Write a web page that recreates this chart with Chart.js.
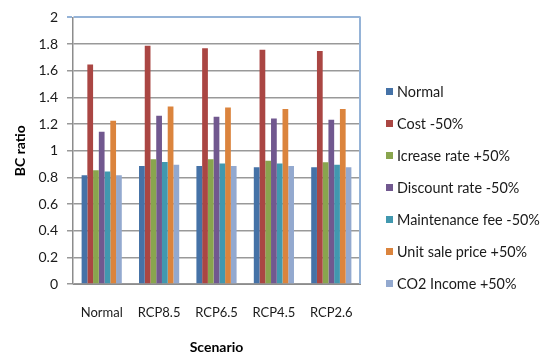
<!DOCTYPE html>
<html>
<head>
<meta charset="utf-8">
<script src="https://cdn.jsdelivr.net/npm/chart.js@4.4.1/dist/chart.umd.min.js"></script>
<style>
  html, body { margin: 0; padding: 0; background: #ffffff; }
  #wrap { width: 549px; height: 356px; position: relative; }
  #legend { position: absolute; left: 386px; top: 83px; margin: 0; padding: 0; list-style: none;
            font-family: Lato, "Open Sans", sans-serif; font-size: 14.4px; color: #1a1a1a; }
  #legend li { display: flex; align-items: center; height: 16px; margin-bottom: 16px; white-space: nowrap; }
  #legend .sw { width: 7px; height: 7px; margin-right: 4px; flex: none; }
</style>
</head>
<body>
<div id="wrap">
  <canvas id="c" width="549" height="356"></canvas>
  <ul id="legend"></ul>
</div>
<script>
// Benefit-cost ratio per climate scenario, one series per sensitivity case
const scenarios = ['Normal', 'RCP8.5', 'RCP6.5', 'RCP4.5', 'RCP2.6'];

const seriesNames = [
  'Normal',
  'Cost -50%',
  'Icrease rate +50%',
  'Discount rate -50%',
  'Maintenance fee -50%',
  'Unit sale price +50%',
  'CO2 Income +50%'
];

const normalCase      = [0.815, 0.886, 0.886, 0.876, 0.876];
const costMinus50     = [1.647, 1.788, 1.768, 1.758, 1.748];
const increasePlus50  = [0.854, 0.936, 0.936, 0.924, 0.913];
const discountMinus50 = [1.143, 1.262, 1.254, 1.242, 1.232];
const maintMinus50    = [0.844, 0.916, 0.904, 0.904, 0.894];
const unitPricePlus50 = [1.225, 1.331, 1.324, 1.313, 1.313];
const co2IncomePlus50 = [0.815, 0.894, 0.886, 0.886, 0.876];

const yTickLabels = ['0', '0.2', '0.4', '0.6', '0.8', '1', '1.2', '1.4', '1.6', '1.8', '2'];

const seriesColors = ['#4572A7', '#AA4643', '#89A54E', '#71588F', '#4198AF', '#DB843D', '#93A9CF'];
const seriesValues = [normalCase, costMinus50, increasePlus50, discountMinus50, maintMinus50, unitPricePlus50, co2IncomePlus50];

const FONT = 'Lato, "Open Sans", sans-serif';
const isTop = ctx => ctx.tick && Math.abs(ctx.tick.value - 2) < 1e-6;

const datasets = seriesNames.map((name, i) => ({
  label: name,
  data: seriesValues[i],
  backgroundColor: seriesColors[i],
  borderWidth: 0,
  categoryPercentage: 0.7,
  barPercentage: 1.0
}));

// Light-blue frame on the right edge of the plot area
const plotFrame = {
  id: 'plotFrame',
  afterDatasetsDraw(chart) {
    const { ctx, chartArea: a } = chart;
    ctx.save();
    ctx.strokeStyle = '#95B3D7';
    ctx.lineWidth = 2;
    ctx.beginPath();
    ctx.moveTo(a.right, a.top - 1);
    ctx.lineTo(a.right, a.bottom);
    ctx.stroke();
    ctx.restore();
  }
};

const chart = new Chart(document.getElementById('c'), {
  type: 'bar',
  data: { labels: scenarios, datasets },
  plugins: [plotFrame],
  options: {
    responsive: false,
    animation: false,
    devicePixelRatio: 1,
    layout: { padding: { left: 0, right: 189, top: 6, bottom: 0 } },
    plugins: {
      tooltip: { enabled: false },
      legend: { display: false }
    },
    scales: {
      x: {
        afterFit: s => { s.height = 72; },
        grid: { display: false },
        border: { color: '#8c8c8c', width: 1 },
        ticks: {
          font: { family: FONT, size: 13 },
          color: '#1a1a1a',
          padding: 13
        },
        title: {
          display: true,
          text: 'Scenario',
          font: { family: FONT, size: 14, weight: 'bold' },
          color: '#000',
          padding: { top: 0, bottom: 0 }
        }
      },
      y: {
        afterFit: s => { s.width = 73; },
        min: 0,
        max: 2,
        ticks: {
          stepSize: 0.2,
          font: { family: FONT, size: 14 },
          color: '#1a1a1a',
          padding: 9,
          callback: (v, i) => yTickLabels[i]
        },
        grid: {
          color: ctx => isTop(ctx) ? '#95B3D7' : '#999999',
          lineWidth: ctx => isTop(ctx) ? 2 : 1.5,
          drawTicks: true,
          tickLength: 6
        },
        border: { color: '#8c8c8c', width: 1.5 },
        title: {
          display: true,
          text: 'BC ratio',
          font: { family: FONT, size: 14, weight: 'bold' },
          color: '#000',
          padding: { top: 12, bottom: 0 }
        }
      }
    }
  }
});

// Legend list built from the chart's own datasets
const legendEl = document.getElementById('legend');
chart.data.datasets.forEach(ds => {
  const li = document.createElement('li');
  const sw = document.createElement('span');
  sw.className = 'sw';
  sw.style.background = ds.backgroundColor;
  li.appendChild(sw);
  li.appendChild(document.createTextNode(ds.label));
  legendEl.appendChild(li);
});
</script>
</body>
</html>
